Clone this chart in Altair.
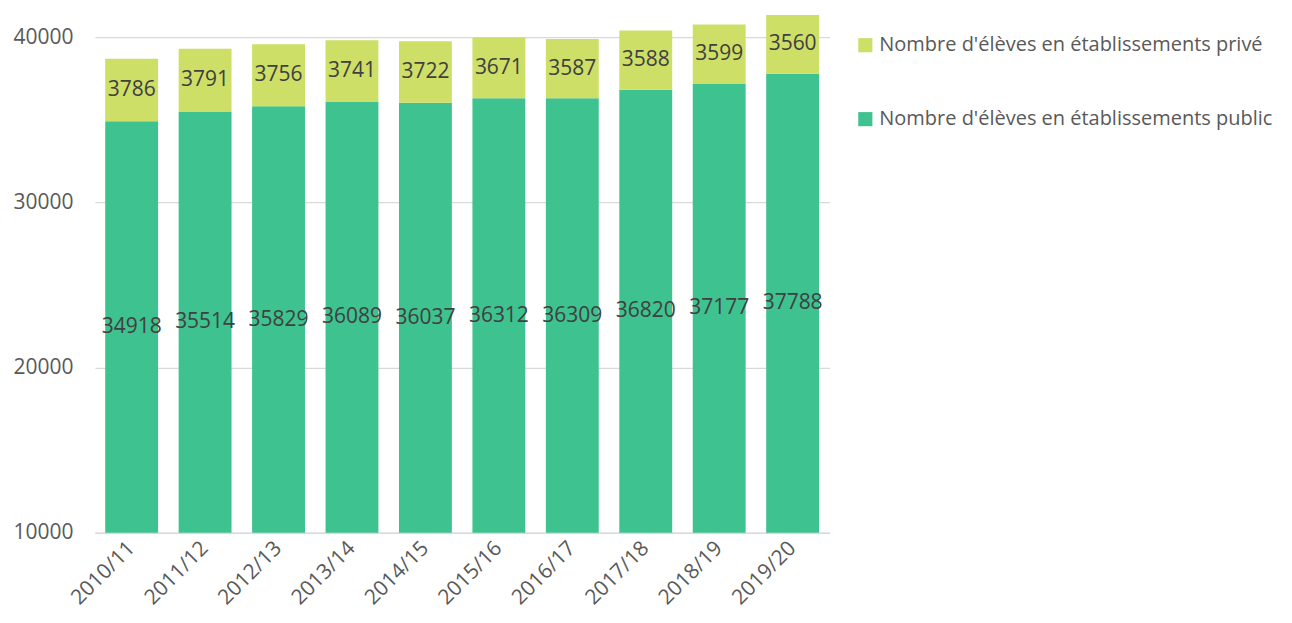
import altair as alt
import pandas as pd

years = ["2010/11", "2011/12", "2012/13", "2013/14", "2014/15",
         "2015/16", "2016/17", "2017/18", "2018/19", "2019/20"]
public = [34918, 35514, 35829, 36089, 36037, 36312, 36309, 36820, 37177, 37788]
prive = [3786, 3791, 3756, 3741, 3722, 3671, 3587, 3588, 3599, 3560]

S_PRIV = "Nombre d'élèves en établissements privé"
S_PUB = "Nombre d'élèves en établissements public"
y_ticks = [10000, 20000, 30000, 40000]
y_min, y_max = 10000, 41640

rows = []
for i, yr in enumerate(years):
    rows.append({"annee": yr, "serie": S_PUB, "ordre": 0, "valeur": public[i],
                 "bas": 0, "haut": public[i],
                 "lab": (y_min + public[i]) / 2})
    rows.append({"annee": yr, "serie": S_PRIV, "ordre": 1, "valeur": prive[i],
                 "bas": public[i], "haut": public[i] + prive[i],
                 "lab": public[i] + prive[i] / 2})
df = pd.DataFrame(rows)

FONT = "Open Sans"
yscale = alt.Scale(domain=[y_min, y_max], nice=False, zero=False)
xenc = alt.X("annee:N", sort=years, title=None,
             scale=alt.Scale(paddingInner=0.28, paddingOuter=0.14),
             axis=alt.Axis(labelAngle=-45, labelAlign="right", labelBaseline="middle",
                           labelFontSize=21, labelColor="#595959", labelFont=FONT,
                           ticks=False, domainColor="#D9D9D9", domainWidth=1.5,
                           labelPadding=12))

bars = alt.Chart(df).mark_bar(clip=True).encode(
    x=xenc,
    y=alt.Y("bas:Q", scale=yscale, title=None,
            axis=alt.Axis(values=y_ticks, format="d", labelFontSize=21, labelColor="#595959",
                          labelFont=FONT, ticks=False, domain=False,
                          gridColor="#D9D9D9", gridWidth=1.2, labelPadding=22)),
    y2="haut:Q",
    color=alt.Color("serie:N",
                    scale=alt.Scale(domain=[S_PRIV, S_PUB], range=["#CDDF66", "#3EC28F"]),
                    legend=alt.Legend(title=None, orient="none", legendX=761, legendY=25,
                                      labelFontSize=20, labelColor="#595959", labelFont=FONT,
                                      symbolType="square", symbolSize=200, labelLimit=500,
                                      symbolStrokeWidth=0, rowPadding=54, labelOffset=4)),
)

labels = alt.Chart(df).mark_text(fontSize=21, font=FONT, color="#404040").encode(
    x=alt.X("annee:N", sort=years),
    y=alt.Y("lab:Q", scale=yscale),
    text="valeur:Q",
)

chart = (bars + labels).properties(
    width=735, height=523,
    padding={"left": 87, "top": 2, "right": 455, "bottom": 90},
    autosize=alt.AutoSizeParams(type="none"),
).configure(background="white").configure_view(stroke=None)

chart.save("out.html", embed_options={"renderer": "svg", "actions": False})
